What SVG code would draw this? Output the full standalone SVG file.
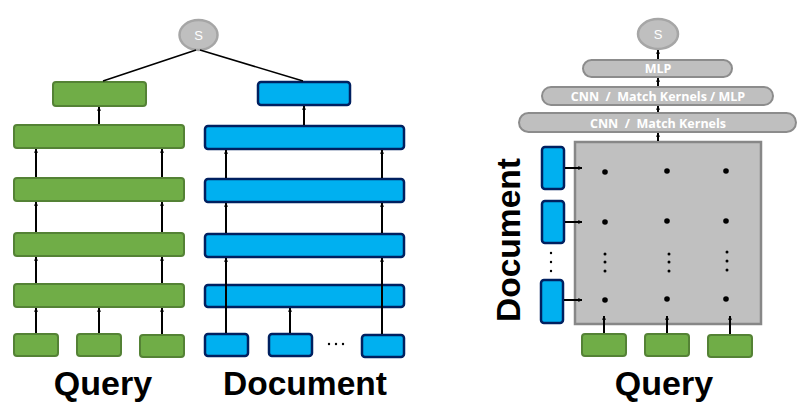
<svg xmlns="http://www.w3.org/2000/svg" width="805" height="409" viewBox="0 0 805 409">
<defs>
<marker id="ah" viewBox="0 0 6 6" refX="5.5" refY="3" markerWidth="4" markerHeight="4" orient="auto" markerUnits="userSpaceOnUse">
<path d="M0,0 L6,3 L0,6 z" fill="#000"/>
</marker>
<style>
.g{fill:#70AD47;stroke:#548235;stroke-width:2}
.b{fill:#00B0F0;stroke:#002060;stroke-width:2.5}
.s{fill:#BFBFBF;stroke:#A6A6A6;stroke-width:2.5}
.p{fill:#BFBFBF;stroke:#8C8C8C;stroke-width:2}
.c{stroke:#000;stroke-width:2;fill:none;marker-end:url(#ah)}
.cl{stroke:#000;stroke-width:1.5;fill:none}
.st{font-family:"Liberation Sans",Arial,sans-serif;font-size:13px;fill:#fff;text-anchor:middle}
.pt{font-family:"Open Sans","Liberation Sans",sans-serif;font-size:12.5px;font-weight:bold;fill:#fff;text-anchor:middle;white-space:pre}
.lb{font-family:"Liberation Sans",Arial,sans-serif;font-size:34px;font-weight:bold;fill:#000;text-anchor:middle}
.d{fill:#000}
</style>
</defs>

<g id="left-score">
<ellipse class="s" cx="198.5" cy="35" rx="19" ry="15"/>
<text class="st" x="198.5" y="40">S</text>
</g>
<g id="q-top"><rect class="g" x="53" y="82" width="93" height="24" rx="3"/></g>
<g id="d-top"><rect class="b" x="258" y="82" width="92" height="23" rx="3"/></g>
<g id="q-layer1"><rect class="g" x="14" y="125" width="170" height="23" rx="3"/></g>
<g id="q-layer2"><rect class="g" x="14" y="178" width="170" height="23" rx="3"/></g>
<g id="q-layer3"><rect class="g" x="14" y="233" width="170" height="23" rx="3"/></g>
<g id="q-layer4"><rect class="g" x="14" y="284" width="170" height="23" rx="3"/></g>
<g id="d-layer1"><rect class="b" x="205" y="126" width="199" height="23" rx="3"/></g>
<g id="d-layer2"><rect class="b" x="205" y="179" width="199" height="23" rx="3"/></g>
<g id="d-layer3"><rect class="b" x="205" y="234" width="199" height="23" rx="3"/></g>
<g id="d-layer4"><rect class="b" x="205" y="285" width="199" height="22" rx="3"/></g>
<g id="q-in1"><rect class="g" x="14" y="334" width="44" height="22" rx="3"/></g>
<g id="q-in2"><rect class="g" x="77" y="334" width="44" height="22" rx="3"/></g>
<g id="q-in3"><rect class="g" x="140" y="335" width="44" height="22" rx="3"/></g>
<g id="d-in1"><rect class="b" x="205" y="334" width="43" height="22" rx="3"/></g>
<g id="d-in2"><rect class="b" x="269" y="334" width="43" height="22" rx="3"/></g>
<g id="d-in3"><rect class="b" x="362" y="335" width="42" height="22" rx="3"/></g>
<g id="d-ellipsis">
<circle class="d" cx="329" cy="344" r="1.2"/>
<circle class="d" cx="336" cy="344" r="1.2"/>
<circle class="d" cx="343" cy="344" r="1.2"/>
</g>
<text class="lb" x="103" y="395">Query</text>
<text class="lb" x="305" y="395" textLength="164" lengthAdjust="spacingAndGlyphs">Document</text>

<g id="right-score">
<ellipse class="s" cx="658" cy="34" rx="20" ry="15"/>
<text class="st" x="658" y="39">S</text>
</g>
<g id="mlp"><rect class="p" x="583" y="60" width="149" height="17" rx="8.5"/><text class="pt" x="658" y="73">MLP</text></g>
<g id="cnn2"><rect class="p" x="542" y="87" width="231" height="18" rx="9"/><text class="pt" x="658" y="101" xml:space="preserve">CNN  /  Match Kernels / MLP</text></g>
<g id="cnn1"><rect class="p" x="519" y="113" width="277" height="19" rx="9.5"/><text class="pt" x="658" y="127.5" xml:space="preserve">CNN  /  Match Kernels</text></g>
<g id="matrix">
<rect x="575" y="142" width="186" height="182" fill="#C0C0C0" stroke="#878787" stroke-width="2.5"/>
<circle class="d" cx="605" cy="172" r="2.8"/>
<circle class="d" cx="667" cy="171" r="2.8"/>
<circle class="d" cx="726" cy="171" r="2.8"/>
<circle class="d" cx="605" cy="222" r="2.8"/>
<circle class="d" cx="667" cy="221" r="2.8"/>
<circle class="d" cx="726" cy="221" r="2.8"/>
<circle class="d" cx="605" cy="300" r="2.8"/>
<circle class="d" cx="667" cy="299" r="2.8"/>
<circle class="d" cx="726" cy="299" r="2.8"/>
<circle class="d" cx="605" cy="254" r="1.5"/><circle class="d" cx="605" cy="262" r="1.5"/><circle class="d" cx="605" cy="271" r="1.5"/>
<circle class="d" cx="669" cy="254" r="1.5"/><circle class="d" cx="669" cy="262" r="1.5"/><circle class="d" cx="669" cy="271" r="1.5"/>
<circle class="d" cx="727" cy="252" r="1.5"/><circle class="d" cx="727" cy="261" r="1.5"/><circle class="d" cx="727" cy="270" r="1.5"/>
</g>
<g id="r-doc1"><rect class="b" x="542" y="147" width="22" height="42" rx="3"/></g>
<g id="r-doc2"><rect class="b" x="542" y="201" width="22" height="42" rx="3"/></g>
<g id="r-doc3"><rect class="b" x="541" y="280" width="22" height="43" rx="3"/></g>
<g id="r-doc-ellipsis">
<circle class="d" cx="551" cy="253" r="1.2"/>
<circle class="d" cx="551" cy="262" r="1.2"/>
<circle class="d" cx="551" cy="271" r="1.2"/>
</g>
<g id="r-q1"><rect class="g" x="582" y="334" width="44" height="22" rx="3"/></g>
<g id="r-q2"><rect class="g" x="645" y="334" width="44" height="22" rx="3"/></g>
<g id="r-q3"><rect class="g" x="708" y="335" width="44" height="22" rx="3"/></g>
<text class="lb" x="664" y="395">Query</text>
<text class="lb" transform="translate(520,240) rotate(-90)" x="0" y="0" textLength="164" lengthAdjust="spacingAndGlyphs">Document</text>

<g id="connectors">
<line class="cl" x1="103" y1="81" x2="196" y2="50"/>
<line class="cl" x1="303" y1="81" x2="200" y2="50"/>
<line class="c" x1="99" y1="124" x2="99" y2="107"/>
<line class="c" x1="304" y1="125" x2="304" y2="106"/>
<line class="c" x1="36" y1="177" x2="36" y2="149"/>
<line class="c" x1="162" y1="177" x2="162" y2="149"/>
<line class="c" x1="36" y1="232" x2="36" y2="202"/>
<line class="c" x1="162" y1="232" x2="162" y2="202"/>
<line class="c" x1="36" y1="283" x2="36" y2="257"/>
<line class="c" x1="162" y1="283" x2="162" y2="257"/>
<line class="c" x1="36" y1="333" x2="36" y2="308"/>
<line class="c" x1="99" y1="333" x2="99" y2="308"/>
<line class="c" x1="162" y1="334" x2="162" y2="308"/>
<line class="c" x1="226" y1="178" x2="226" y2="150"/>
<line class="c" x1="382" y1="178" x2="382" y2="150"/>
<line class="c" x1="226" y1="233" x2="226" y2="203"/>
<line class="c" x1="382" y1="233" x2="382" y2="203"/>
<line class="c" x1="226" y1="333" x2="226" y2="258"/>
<line class="c" x1="290" y1="333" x2="290" y2="308"/>
<line class="c" x1="382" y1="334" x2="382" y2="258"/>
<line class="c" x1="658" y1="59" x2="658" y2="50"/>
<line class="c" x1="658" y1="86" x2="658" y2="78"/>
<line class="c" x1="658" y1="112" x2="658" y2="106"/>
<line class="c" x1="658" y1="141" x2="658" y2="133"/>
<line class="c" x1="565" y1="168" x2="582" y2="168"/>
<line class="c" x1="565" y1="222" x2="582" y2="222"/>
<line class="c" x1="564" y1="300" x2="582" y2="300"/>
<line class="c" x1="604" y1="333" x2="604" y2="316"/>
<line class="c" x1="667" y1="333" x2="667" y2="316"/>
<line class="c" x1="730" y1="334" x2="730" y2="316"/>
</g>
</svg>
